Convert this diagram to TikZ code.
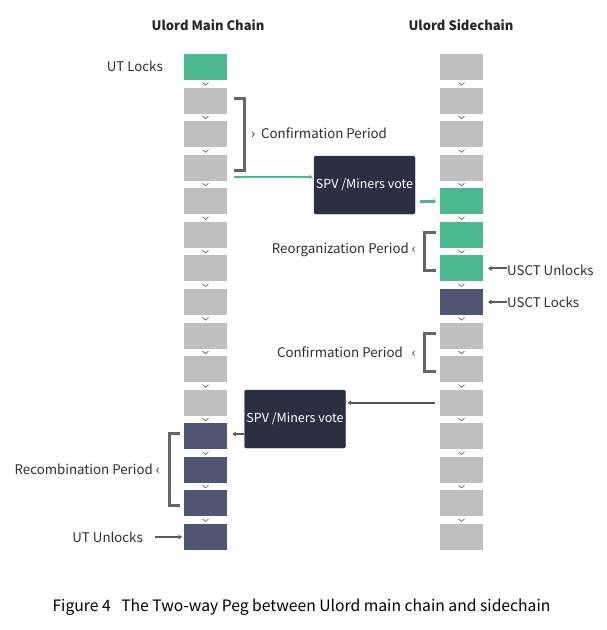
\documentclass[tikz,border=0pt]{standalone}
\usepackage{fontspec}
\setmainfont{Noto Sans CJK SC}
\usetikzlibrary{arrows.meta,calc}
\definecolor{blkgray}{HTML}{BFBFBF}
\definecolor{blkgreen}{HTML}{4DB991}
\definecolor{blkdark}{HTML}{4E5673}
\definecolor{boxnavy}{HTML}{2B2F42}
\definecolor{brk}{HTML}{666666}
\definecolor{txt}{HTML}{2E2E2E}
\definecolor{chev}{HTML}{777777}
\definecolor{arrgreen}{HTML}{4DB991}
\definecolor{arrgray}{HTML}{5A5A5A}
\tikzset{
  blk/.style={minimum width=43pt,minimum height=26pt,inner sep=0pt,outer sep=0pt},
  lbl/.style={text=txt,font=\fontsize{13.3}{15}\selectfont,inner sep=0pt},
  ttl/.style={text=black!85,font=\bfseries\fontsize{13}{15}\selectfont,inner sep=0pt},
  votebox/.style={fill=boxnavy,draw=boxnavy,rounded corners=1.5pt,minimum width=101pt,minimum height=58pt,text=white,font=\fontsize{12.5}{14}\selectfont,inner sep=0pt},
  bracket/.style={draw=brk,line width=3pt},
  garrow/.style={draw=arrgreen,line width=1.4pt,-{Triangle[length=3.5pt,width=4pt]}},
  gthick/.style={draw=arrgreen,line width=2.6pt,-{Triangle[length=3pt,width=5pt]}},
  darrow/.style={draw=arrgray,line width=2pt,-{Triangle[length=3.5pt,width=4.5pt]}},
  chevron/.style={draw=chev,line width=0.8pt}
}
\begin{document}
\begin{tikzpicture}[x=1pt,y=-1pt]
\useasboundingbox (0,0) rectangle (606,630);
% chain blocks
\foreach \i in {0,...,14}{
  \pgfmathsetmacro{\yy}{67+\i*33.57}
  \ifnum\i=0 \def\mc{blkgreen}\else\ifnum\i>10 \def\mc{blkdark}\else\def\mc{blkgray}\fi\fi
  \node[blk,fill=\mc] (m\i) at (205.5,\yy) {};
  \ifnum\i<4 \def\sc{blkgray}\else\ifnum\i<7 \def\sc{blkgreen}\else\ifnum\i=7 \def\sc{blkdark}\else\def\sc{blkgray}\fi\fi\fi
  \node[blk,fill=\sc] (s\i) at (461.5,\yy) {};
}
% chevrons
\foreach \i in {0,...,13}{
  \pgfmathsetmacro{\cy}{67+\i*33.57+16.8}
  \draw[chevron] (202.5,\cy-1.3) -- (205.5,\cy+1.3) -- (208.5,\cy-1.3);
  \draw[chevron] (458.5,\cy-1.3) -- (461.5,\cy+1.3) -- (464.5,\cy-1.3);
}
% titles
\node[ttl] (t1) at (208,25) {Ulord Main Chain};
\node[ttl] (t2) at (461,25) {Ulord Sidechain};
% labels
\node[lbl,anchor=east] (utl) at (163,66) {UT Locks};
\node[lbl,anchor=west] (cp1) at (251,133) {›\ \ Confirmation Period};
\node[lbl,anchor=east] (rp) at (416,250) {Reorganization Period ‹};
\node[lbl,anchor=west] (usu) at (507,270) {USCT Unlocks};
\node[lbl,anchor=west] (usl) at (507,302) {USCT Locks};
\node[lbl,anchor=east] (cp2) at (416,352) {Confirmation Period\ \ \ ‹};
\node[lbl,anchor=east] (rcp) at (160,469) {Recombination Period ‹};
\node[lbl,anchor=east] (utu) at (143,537) {UT Unlocks};
% brackets
\draw[bracket] ($(m1.east)+(7,-2.5)$) -| ($(m1.east)+(17.5,0)$) |- ($(m3.east)+(7,2.5)$);
\draw[bracket] ($(s5.west)+(-4,-2.5)$) -| ($(s5.west)+(-15.5,0)$) |- ($(s6.west)+(-4,2.5)$);
\draw[bracket] ($(s8.west)+(-4,-2.5)$) -| ($(s8.west)+(-15.5,0)$) |- ($(s9.west)+(-4,2.5)$);
\draw[bracket] ($(m11.west)+(-4,-2.5)$) -| ($(m11.west)+(-14.5,0)$) |- ($(m13.west)+(-4,2.5)$);
% vote boxes
\node[votebox] (v1) at (364.5,185) {SPV /Miners vote};
\node[votebox] (v2) at (295,419) {SPV /Miners vote};
% arrows
\coordinate (g1) at ($(m3.east)+(7,9.3)$);
\coordinate (g1e) at (g1 -| v1.west);
\draw[garrow] (g1) -- ($(g1e)+(-1,0)$);
\coordinate (g2) at ($(s4.west)+(-20,0)$);
\draw[gthick] (g2) -- ($(s4.west)+(-4,0)$);
\coordinate (a1) at ($(s10.west)+(-5,0)$);
\coordinate (a1e) at (a1 -| v2.east);
\draw[darrow] (a1) -- ($(a1e)+(2,0)$);
\coordinate (a2) at ($(v2.west)+(0,15)$);
\draw[darrow] (a2) -- ($(a2)+(-12,0)$);
\coordinate (a3) at ($(m14.west)+(-29,0)$);
\draw[darrow] (a3) -- ($(m14.west)+(-2,0)$);
\coordinate (a4) at ($(s6.west)+(67,0)$);
\draw[darrow] (a4) -- ($(s6.west)+(48,0)$);
\coordinate (a5) at ($(s7.west)+(67,0)$);
\draw[darrow] (a5) -- ($(s7.west)+(48,0)$);
% caption
\node[text=black,font=\fontsize{15.7}{18}\selectfont,inner sep=0pt] (cap) at (301.5,607) {Figure 4\ \ \ The Two-way Peg between Ulord main chain and sidechain};
\end{tikzpicture}
\end{document}
